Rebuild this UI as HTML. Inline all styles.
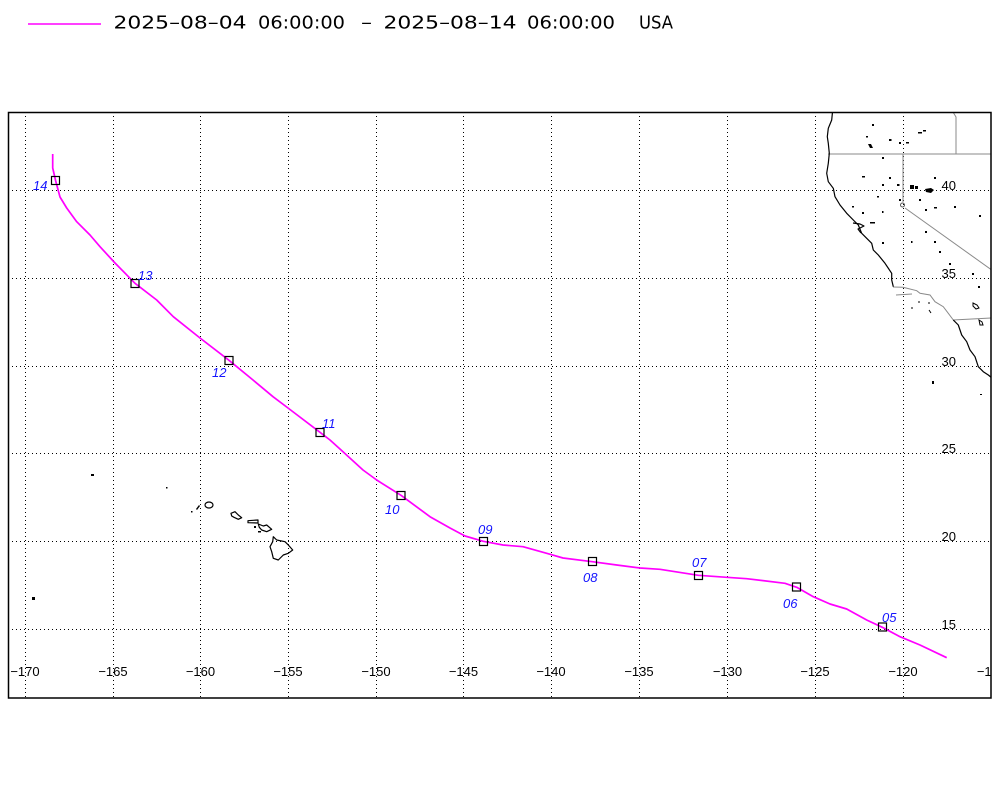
<!DOCTYPE html>
<html>
<head>
<meta charset="utf-8">
<style>
html,body{margin:0;padding:0;background:#fff;}
svg{display:block;}
</style>
</head>
<body>
<svg width="1000" height="800" viewBox="0 0 1000 800" xmlns="http://www.w3.org/2000/svg">
<defs>
<clipPath id="plot"><rect x="8" y="112" width="983" height="586"/></clipPath>
</defs>
<rect x="0" y="0" width="1000" height="800" fill="#fff"/>

<!-- legend / title -->
<line x1="28" y1="24" x2="101" y2="24" stroke="#ff00ff" stroke-width="1.5"/>
<g font-family="'DejaVu Sans','Liberation Sans',sans-serif" font-size="18" fill="#000" lengthAdjust="spacingAndGlyphs">
<text x="113.5" y="28.5" textLength="133" lengthAdjust="spacingAndGlyphs">2025–08–04</text>
<text x="258" y="28.5" textLength="87" lengthAdjust="spacingAndGlyphs">06:00:00</text>
<text x="361" y="28.5" textLength="11" lengthAdjust="spacingAndGlyphs">–</text>
<text x="383.5" y="28.5" textLength="133" lengthAdjust="spacingAndGlyphs">2025–08–14</text>
<text x="527" y="28.5" textLength="88" lengthAdjust="spacingAndGlyphs">06:00:00</text>
<text x="639" y="28.5" textLength="34" lengthAdjust="spacingAndGlyphs">USA</text>
</g>

<g clip-path="url(#plot)">
<!-- grid -->
<g stroke="#000" stroke-width="1" stroke-dasharray="1 3" shape-rendering="crispEdges">
<line x1="25.5" y1="112" x2="25.5" y2="698"/>
<line x1="113.5" y1="112" x2="113.5" y2="698"/>
<line x1="200.5" y1="112" x2="200.5" y2="698"/>
<line x1="288.5" y1="112" x2="288.5" y2="698"/>
<line x1="376.5" y1="112" x2="376.5" y2="698"/>
<line x1="463.5" y1="112" x2="463.5" y2="698"/>
<line x1="551.5" y1="112" x2="551.5" y2="698"/>
<line x1="639.5" y1="112" x2="639.5" y2="698"/>
<line x1="727.5" y1="112" x2="727.5" y2="698"/>
<line x1="815.5" y1="112" x2="815.5" y2="698"/>
<line x1="903.5" y1="112" x2="903.5" y2="698"/>
<line x1="8" y1="190.5" x2="991" y2="190.5"/>
<line x1="8" y1="278.5" x2="991" y2="278.5"/>
<line x1="8" y1="366.5" x2="991" y2="366.5"/>
<line x1="8" y1="453.5" x2="991" y2="453.5"/>
<line x1="8" y1="541.5" x2="991" y2="541.5"/>
<line x1="8" y1="629.5" x2="991" y2="629.5"/>
</g>

<!-- state borders -->
<g fill="none" stroke="#8a8a8a" stroke-width="1">
<polyline points="828,154 991,154"/>
<polyline points="953,112 956,117 956,154"/>
<polyline points="903,154 903,202"/>
<polyline points="905,208 991.7,270"/>
<polyline points="953,320 991,318"/>
<polyline points="893,287 903,287.3 916.7,290.7 920,293.3 930,295 935,301.7 943.3,306.7 948.3,313.3 953.3,320"/>
<polyline points="896,295 912,294"/>
</g>
<circle cx="902.5" cy="205" r="2" fill="none" stroke="#555" stroke-width="1"/>

<!-- coastline -->
<g fill="none" stroke="#000" stroke-width="1.2" stroke-linejoin="round">
<polyline points="832.7,110 831.7,120 828.3,128.3 827.3,136.7 828.3,143.3 829.3,153.3 828.3,163.3 826.7,173.3 828.3,181.7 833.3,188.3 835,196.7 840,205 846.7,213.3 853.3,220 858.3,225 861.7,233.3 866.7,238.3 871.7,243.3 873.3,250 878.3,255 885,263.3 891.7,273.3 891.7,280 893.3,286.7"/>
<polyline points="953.3,320 958.3,325 961.7,335 966.7,341.7 970,350 975,356.7 978.3,366.7 983.3,371.7 988.3,375 992,378"/>
<polyline points="853,223 860,224 864,226 858,229 861,233"/>
</g>

<!-- lakes / small islands near CA -->
<g fill="#000">
<rect x="872" y="124" width="2" height="2"/>
<rect x="866" y="136" width="2" height="1.5"/>
<path d="M868,144 l3,0 l2,4 l-3,0 z"/>
<rect x="889" y="139" width="2.5" height="2"/>
<rect x="899" y="142" width="2" height="2"/>
<rect x="906" y="142" width="3" height="1.5"/>
<rect x="918" y="132" width="4" height="1.5"/>
<rect x="923" y="130" width="3" height="1.5"/>
<rect x="882" y="157" width="2" height="2"/>
<rect x="862" y="176" width="3" height="1.5"/>
<rect x="889" y="177" width="2" height="2"/>
<rect x="882" y="184" width="2" height="2"/>
<rect x="897" y="184" width="2.5" height="2"/>
<path d="M910,185 l4,0 l0,4 l-4,0 z M915,186 l3,0 l0,3 l-3,0z"/>
<rect x="934" y="177" width="2" height="2"/>
<path d="M925,189 l6,-1 l3,2 l-3,3 l-5,-1 z"/>
<rect x="919" y="199" width="2" height="2"/>
<rect x="899" y="199" width="2" height="2"/>
<rect x="877" y="196" width="2" height="1.5"/>
<rect x="852" y="206" width="2" height="1.5"/>
<rect x="862" y="212" width="2" height="2"/>
<rect x="882" y="211" width="1.5" height="2"/>
<rect x="925" y="209" width="2" height="2"/>
<rect x="934" y="207" width="3" height="1.5"/>
<rect x="954" y="206" width="2" height="2"/>
<rect x="979" y="215" width="2" height="2"/>
<rect x="870" y="222" width="5" height="1.5"/>
<rect x="925" y="231" width="2" height="2"/>
<rect x="911" y="241" width="1.5" height="2"/>
<rect x="934" y="241" width="2" height="2"/>
<rect x="882" y="242" width="2" height="2"/>
<rect x="939" y="251" width="2" height="2"/>
<rect x="949" y="263" width="2" height="2"/>
<rect x="972" y="273" width="2" height="2"/>
<rect x="978" y="286" width="2" height="2"/>
<rect x="932" y="381" width="2" height="3"/>
<rect x="980" y="394" width="2" height="1"/>
</g>
<g fill="none" stroke="#000" stroke-width="1">
<path d="M973,303 l4,2 l2,3 l-3,1 l-3,-3 z"/>
<path d="M979,320 l3,2 l1,3 l-3,0 z"/>
<path d="M928,303 l2,0 M929,310 l2,3 M911,308 l2,0 M918,302 l2,0"/>
</g>

<!-- Hawaii -->
<g fill="none" stroke="#000" stroke-width="1.2" stroke-linejoin="round">
<ellipse cx="209" cy="505" rx="4" ry="3"/>
<polygon points="231,513.3 235,511.7 238.3,515 241.7,517.7 238.3,519.3 234,517.3 231.7,516"/>
<polygon points="248,520.7 258,520 258,523 248,522.7"/>
<polygon points="258.3,524 263.3,526 266.7,525 271.7,529.3 266.7,531.7 261.7,530 259.3,527.3"/>
<polygon points="273.3,536.7 276.7,540 285,541.7 288.3,545 292.7,550 288.3,553.3 283.3,555 278.3,560 273.3,558.3 271.7,551.7 270,546.7 272.7,541.7"/>
</g>
<g fill="#000">
<path d="M196,509 l3,-4 l1,1 l-3,4 z"/>
<rect x="254" y="526" width="2" height="2"/>
<rect x="258" y="531" width="3" height="1.5"/>
<rect x="166" y="487" width="1.5" height="1.5"/>
<rect x="191" y="511" width="1.5" height="1.5"/>
<rect x="91" y="474" width="3" height="2"/>
<rect x="32" y="597" width="3" height="3"/>
</g>

<!-- track -->
<polyline fill="none" stroke="#ff00ff" stroke-width="1.7" stroke-linejoin="round" points="52.7,154 52.7,168 55.7,181 60,197 66.7,208 76.7,221.7 90,235 100,246.7 115,263 135,283.3 156.7,300 173.3,316.7 200,338 229,360.3 253,380 273,396.7 288,408 320,432.3 330,440 343,451.7 363,470 376.7,480 401,495.3 430,516.7 450,528 465,536 483.3,541.3 503,545 523,546.7 546.7,553.3 563,558 592.3,561.7 616.7,565 640,568 660,569.3 698.3,575.3 726.7,577.3 746.7,578.7 785,583.3 796.7,587.3 813.3,596.7 830,604 846.7,609 866.7,620 882.3,627.3 900,636.7 920,645 946.7,657.7"/>

<!-- markers -->
<g fill="none" stroke="#000" stroke-width="1.2">
<rect x="51.5" y="176.5" width="8" height="8"/>
<rect x="131" y="279.5" width="8" height="8"/>
<rect x="225" y="356.5" width="8" height="8"/>
<rect x="316" y="428.5" width="8" height="8"/>
<rect x="397" y="491.5" width="8" height="8"/>
<rect x="479.5" y="537.5" width="8" height="8"/>
<rect x="588.5" y="557.5" width="8" height="8"/>
<rect x="694.5" y="571.5" width="8" height="8"/>
<rect x="792.5" y="583" width="8" height="8"/>
<rect x="878.5" y="623" width="8" height="8"/>
</g>

<!-- date labels -->
<g fill="#1414ff" font-family="'Liberation Sans',sans-serif" font-size="13" font-style="italic">
<text x="33" y="190">14</text>
<text x="138" y="280">13</text>
<text x="212" y="377">12</text>
<text x="322" y="428">11</text>
<text x="385" y="514">10</text>
<text x="478" y="534">09</text>
<text x="583" y="582">08</text>
<text x="692" y="567">07</text>
<text x="783" y="608">06</text>
<text x="882" y="622">05</text>
</g>

<!-- lat labels -->
<g fill="#000" font-family="'Liberation Sans',sans-serif" font-size="13" text-anchor="end">
<text x="956" y="190">40</text>
<text x="956" y="278">35</text>
<text x="956" y="366">30</text>
<text x="956" y="453">25</text>
<text x="956" y="541">20</text>
<text x="956" y="629">15</text>
</g>

<!-- lon labels -->
<g fill="#000" font-family="'Liberation Sans',sans-serif" font-size="13" text-anchor="middle">
<text x="25" y="676">−170</text>
<text x="113" y="676">−165</text>
<text x="200.5" y="676">−160</text>
<text x="288" y="676">−155</text>
<text x="376" y="676">−150</text>
<text x="463.5" y="676">−145</text>
<text x="551" y="676">−140</text>
<text x="639" y="676">−135</text>
<text x="727.5" y="676">−130</text>
<text x="815" y="676">−125</text>
<text x="903" y="676">−120</text>
<text x="991" y="676">−115</text>
</g>
</g>

<!-- frame -->
<rect x="8.5" y="112.5" width="982.5" height="585.5" fill="none" stroke="#000" stroke-width="1.5"/>
</svg>
</body>
</html>
